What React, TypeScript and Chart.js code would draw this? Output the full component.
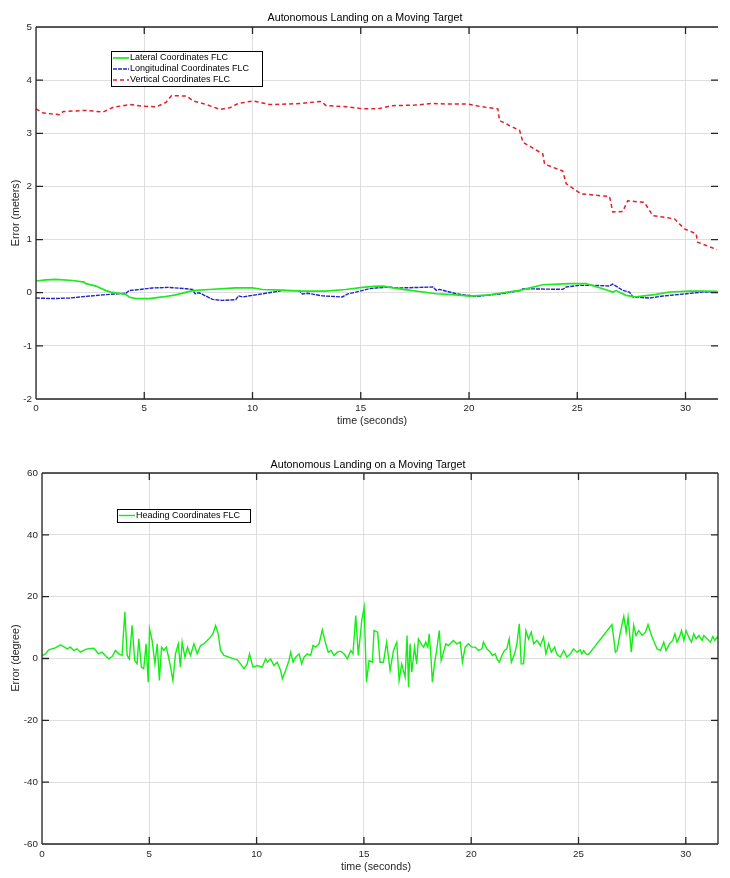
import React, { useEffect, useRef } from 'react';
import { Chart, registerables } from 'chart.js';
Chart.register(...registerables);

const FONT = '"Liberation Sans", Arial, Helvetica, sans-serif';
const AXIS_COLOR = '#262626';
const GRID_COLOR = '#dedede';

const chartTitle = 'Autonomous Landing on a Moving Target';
const xLabel = 'time (seconds)';
const yLabelTop = 'Error (meters)';
const yLabelBottom = 'Error (degree)';
const timeTicks = [0, 5, 10, 15, 20, 25, 30];
const metersTicks = [-2, -1, 0, 1, 2, 3, 4, 5];
const degreeTicks = [-60, -40, -20, 0, 20, 40, 60];

const lateralT = [0, 0.46, 0.92, 1.7, 2.23, 2.3, 2.77, 3.23, 3.46, 4.15, 4.3, 4.6, 5.23, 5.85, 6.46, 7.23, 8.0, 9.23, 10.0, 10.46, 11.38, 12.3, 13.38, 14.3, 15.08, 15.6, 16.03, 16.33, 16.95, 18.49, 19.41, 20.03, 20.95, 22.33, 23.41, 24.64, 25.41, 26.18, 26.64, 26.8, 27.25, 27.72, 28.64, 29.26, 30.18, 30.79, 31.48];
const lateralV = [0.22, 0.24, 0.25, 0.23, 0.2, 0.17, 0.125, 0.04, 0.01, -0.03, -0.08, -0.11, -0.11, -0.08, -0.04, 0.04, 0.06, 0.09, 0.09, 0.06, 0.05, 0.03, 0.03, 0.06, 0.1, 0.12, 0.125, 0.1, 0.063, -0.02, -0.04, -0.063, -0.04, 0.044, 0.15, 0.17, 0.17, 0.075, 0.013, 0.04, -0.05, -0.08, -0.03, 0.013, 0.03, 0.03, 0.025];

const longitudinalT = [0, 0.77, 1.54, 2.3, 3.08, 4.15, 4.3, 4.77, 5.38, 6.15, 6.92, 7.23, 7.35, 7.54, 8.15, 8.6, 9.23, 9.35, 9.54, 10.15, 10.77, 11.38, 12.15, 12.3, 12.54, 13.23, 14.15, 14.38, 14.77, 15.38, 15.7, 16.33, 16.64, 18.33, 18.49, 18.64, 19.41, 20.33, 21.41, 22.41, 22.49, 24.33, 24.49, 25.1, 25.87, 26.49, 26.64, 27.1, 27.41, 27.57, 28.33, 28.95, 30.03, 30.79, 31.48];
const longitudinalV = [-0.1, -0.11, -0.1, -0.07, -0.04, -0.01, 0.04, 0.06, 0.09, 0.1, 0.075, 0.06, -0.02, 0.0, -0.125, -0.145, -0.13, -0.06, -0.08, -0.04, 0.0, 0.04, 0.04, -0.025, -0.01, -0.06, -0.08, -0.025, 0.01, 0.075, 0.09, 0.107, 0.088, 0.107, 0.044, 0.063, -0.02, -0.07, -0.025, 0.044, 0.075, 0.063, 0.107, 0.138, 0.138, 0.125, 0.163, 0.044, 0.013, -0.08, -0.1, -0.063, -0.02, 0.013, 0.013];

const verticalT = [0, 0.34, 1.1, 1.26, 2.34, 3.1, 3.57, 4.34, 4.95, 5.57, 6.0, 6.26, 6.95, 7.26, 7.88, 8.49, 8.95, 9.34, 10.03, 10.8, 12.2, 13.18, 13.4, 14.34, 15.1, 15.8, 16.41, 17.5, 18.26, 19.18, 19.95, 20.57, 21.33, 21.41, 22.34, 22.49, 23.41, 23.49, 24.33, 24.49, 25.18, 26.49, 26.64, 27.1, 27.33, 28.1, 28.49, 29.49, 29.95, 30.49, 30.56, 31.46];
const verticalV = [3.46, 3.38, 3.35, 3.41, 3.43, 3.4, 3.49, 3.54, 3.51, 3.5, 3.58, 3.71, 3.7, 3.61, 3.54, 3.45, 3.48, 3.56, 3.61, 3.54, 3.56, 3.6, 3.52, 3.5, 3.46, 3.46, 3.52, 3.53, 3.56, 3.55, 3.55, 3.5, 3.46, 3.24, 3.05, 2.83, 2.61, 2.42, 2.29, 2.05, 1.86, 1.81, 1.52, 1.53, 1.73, 1.7, 1.45, 1.39, 1.2, 1.11, 0.95, 0.81];

const headingT = [
  0, 0.16, 0.31, 0.62, 0.86, 1.01, 1.17, 1.32, 1.48, 1.63,
  1.79, 1.94, 2.1, 2.41, 2.64, 2.8, 2.95, 3.11, 3.27, 3.42,
  3.58, 3.73, 3.86, 3.97, 4.07, 4.2, 4.32, 4.43, 4.51, 4.63,
  4.74, 4.85, 4.95, 5.01, 5.13, 5.26, 5.37, 5.47, 5.57, 5.68,
  5.79, 5.88, 5.99, 6.1, 6.22, 6.35, 6.45, 6.53, 6.66, 6.78,
  6.92, 7.08, 7.23, 7.39, 7.54, 7.7, 7.85, 7.96, 8.09, 8.21,
  8.32, 8.48, 8.71, 8.94, 9.1, 9.25, 9.41, 9.56, 9.67, 9.83,
  10.03, 10.26, 10.42, 10.5, 10.65, 10.81, 10.96, 11.12, 11.2, 11.35,
  11.51, 11.59, 11.7, 11.82, 11.98, 12.1, 12.21, 12.36, 12.52, 12.63,
  12.75, 12.91, 13.06, 13.22, 13.34, 13.47, 13.61, 13.76, 13.92, 14.07,
  14.23, 14.39, 14.49, 14.62, 14.74, 14.9, 15.01, 15.12, 15.24, 15.4,
  15.47,
  15.64, 15.75, 15.91, 16.06, 16.22, 16.38, 16.53, 16.64, 16.76, 16.92,
  17.01, 17.08, 17.15, 17.23, 17.36, 17.46, 17.54, 17.67, 17.78, 17.88,
  17.98, 18.04, 18.12, 18.19, 18.29, 18.4, 18.51, 18.6, 18.71, 18.82,
  18.94, 19.17, 19.33, 19.49, 19.59, 19.72, 19.87, 20.03, 20.19, 20.34,
  20.5, 20.57, 20.73, 20.89, 20.99, 21.12, 21.2, 21.31, 21.43, 21.55,
  21.66, 21.77, 21.87, 22.02, 22.13, 22.24, 22.33, 22.44, 22.55, 22.67,
  22.8, 22.91, 23.06, 23.22, 23.37, 23.48, 23.61, 23.73, 23.89, 23.98,
  24.15, 24.31, 24.46, 24.62, 24.77, 24.93, 25.08, 25.16, 25.24, 25.35,
  25.47, 26.56, 26.72, 26.8, 26.92, 27.11, 27.22, 27.31, 27.46, 27.57,
  27.68, 27.81, 27.96, 28.12, 28.24, 28.43, 28.66, 28.82, 28.97, 29.08,
  29.24, 29.39, 29.49, 29.59, 29.7, 29.8, 29.91, 30.01, 30.14, 30.26,
  30.37, 30.48, 30.61, 30.76, 30.84, 30.99, 31.15, 31.26, 31.35, 31.46,
  31.54,
];
const headingV = [
  0.97, 1.51, 2.8, 3.45, 4.42, 3.88, 3.13, 3.67, 2.59, 3.13,
  2.05, 2.59, 3.13, 3.34, 1.51, 2.05, 0.97, -0.11, 0.65, 2.59,
  1.51, 0.97, 15.0, 0.97, -0.11, 10.7, -0.65, -1.73, 6.36, -2.8,
  -3.34, 4.75, -7.66, 9.6, 5.83, -1.73, 4.75, -7.12, 3.67, 2.59,
  3.67, 0.97, -2.8, -7.12, 1.51, 4.75, -2.8, 5.29, 0.43, 3.67,
  0.97, 4.75, 1.51, 4.21, 4.75, 5.83, 6.9, 7.98, 10.68, 7.98,
  2.59, 0.97, 0.43, -0.11, -0.43, -1.73, -3.34, -1.73, 1.51, -2.8,
  -2.27, -2.8, -0.11, -1.19, -0.11, -2.27, -1.19, -3.88, -6.58, -3.88,
  -0.65, 2.05, -1.19, 0.43, 1.51, -1.73, 0.43, 1.51, 0.97, 4.21,
  3.67, 4.75, 9.28, 4.75, 2.05, 2.59, 0.97, 2.05, 2.37, 1.51,
  -0.11, 2.59, 1.51, 13.9, 0.97, 12.3, 16.6, -7.66, -0.65, -1.19,
  9.06,
  8.52, -1.19, -1.19, 5.29, -3.88, 2.59, 5.29, -7.12, -1.73, -6.04,
  7.44, -9.28, 4.75, -4.42, 3.67, -1.73, 6.36, 4.75, 3.67, 5.29,
  3.67, 7.98, 0.97, -7.66, -1.73, 3.13, 9.06, -0.65, 2.05, 4.75,
  4.21, 5.83, 4.75, 5.29, -1.19, 3.67, 4.75, 3.67, 3.67, 2.59,
  3.13, 5.29, 3.13, 2.05, 0.97, 1.51, -0.11, -1.19, 0.97, 2.59,
  3.13, 6.36, -1.19, 1.51, 4.75, 11.2, -1.73, -1.73, 9.06, 6.36,
  8.52, 4.75, 5.83, 4.21, 6.9, 1.51, 4.75, 2.05, 3.67, 1.51,
  0.43, 2.59, 0.43, 1.51, 3.13, 2.05, 2.8, 1.51, 2.59, 1.51,
  1.29, 11.0, 2.05, 2.59, 7.44, 13.6, 8.52, 13.4, 2.05, 10.7,
  7.44, 9.06, 7.44, 8.52, 11.0, 6.9, 3.13, 2.59, 5.29, 2.59,
  4.75, 5.83, 7.98, 5.29, 6.9, 9.06, 5.83, 9.06, 6.9, 5.29,
  7.98, 6.36, 7.44, 5.83, 7.44, 6.36, 5.29, 7.12, 5.83, 6.9,
  6.36,
];

const zip = (t: number[], v: number[]) => t.map((x, i) => ({ x, y: v[i] }));

const framePlugin = {
  id: 'matlabFrame',
  afterDraw(chart: any, _args: any, opts: any) {
    const { ctx, chartArea: a } = chart;
    const xs = chart.scales.x;
    const ys = chart.scales.y;
    ctx.save();
    ctx.strokeStyle = AXIS_COLOR;
    ctx.lineWidth = 1.3;
    ctx.beginPath();
    ctx.moveTo(a.left, a.top); ctx.lineTo(a.right, a.top);
    ctx.moveTo(a.left, a.bottom); ctx.lineTo(a.right, a.bottom);
    ctx.moveTo(a.left, a.top); ctx.lineTo(a.left, a.bottom);
    if (opts.rightLine) { ctx.moveTo(a.right, a.top); ctx.lineTo(a.right, a.bottom); }
    const tl = 7;
    xs.ticks.forEach((t: any) => {
      const p = xs.getPixelForValue(t.value);
      ctx.moveTo(p, a.bottom); ctx.lineTo(p, a.bottom - tl);
      ctx.moveTo(p, a.top); ctx.lineTo(p, a.top + tl);
    });
    ys.ticks.forEach((t: any) => {
      const p = ys.getPixelForValue(t.value);
      ctx.moveTo(a.left, p); ctx.lineTo(a.left + tl, p);
      ctx.moveTo(a.right, p); ctx.lineTo(a.right - tl, p);
    });
    ctx.stroke();

    ctx.fillStyle = '#000';
    ctx.textBaseline = 'middle';
    ctx.textAlign = 'center';
    ctx.font = `10.7px ${FONT}`;
    ctx.fillText(opts.title, opts.titleX, opts.titleY);
    ctx.fillStyle = AXIS_COLOR;
    ctx.fillText(opts.xLabel, opts.xLabelX, opts.xLabelY);
    ctx.save();
    ctx.translate(opts.yLabelX, opts.yLabelY);
    ctx.rotate(-Math.PI / 2);
    ctx.fillText(opts.yLabel, 0, 0);
    ctx.restore();

    const L = opts.legend;
    ctx.fillStyle = '#fff';
    ctx.fillRect(L.x, L.y, L.w, L.h);
    ctx.strokeStyle = '#000';
    ctx.lineWidth = 1;
    ctx.setLineDash([]);
    ctx.strokeRect(L.x + 0.5, L.y + 0.5, L.w, L.h);
    ctx.font = `9px ${FONT}`;
    ctx.textAlign = 'left';
    chart.data.datasets.forEach((ds: any, i: number) => {
      const cy = L.y + L.firstRow + i * L.rowH;
      ctx.strokeStyle = ds.borderColor;
      ctx.lineWidth = ds.borderWidth;
      ctx.setLineDash(ds.borderDash || []);
      ctx.beginPath();
      ctx.moveTo(L.x + 2, cy);
      ctx.lineTo(L.x + 18, cy);
      ctx.stroke();
      ctx.setLineDash([]);
      ctx.fillStyle = '#000';
      ctx.fillText(ds.label, L.x + 19, cy);
    });
    ctx.restore();
  },
};

function makeOptions(p: any) {
  return {
    responsive: false,
    animation: false,
    devicePixelRatio: 1,
    layout: { padding: { left: 0, right: 12, top: p.padTop, bottom: 0 } },
    elements: { point: { radius: 0 }, line: { tension: 0 } },
    plugins: {
      legend: { display: false },
      title: { display: false },
      tooltip: { enabled: false },
      matlabFrame: p.frame,
    },
    scales: {
      x: {
        type: 'linear',
        min: 0,
        max: 31.5,
        afterBuildTicks: (s: any) => { s.ticks = timeTicks.map((v) => ({ value: v })); },
        afterFit: (s: any) => { s.height = p.xHeight; },
        grid: { color: GRID_COLOR, lineWidth: 1, drawTicks: false },
        border: { display: false },
        ticks: { font: { family: FONT, size: 9.8 }, color: AXIS_COLOR, padding: p.xPad, maxRotation: 0 },
      },
      y: {
        type: 'linear',
        min: p.yMin,
        max: p.yMax,
        afterBuildTicks: (s: any) => { s.ticks = p.yTicks.map((v: number) => ({ value: v })); },
        afterFit: (s: any) => { s.width = p.yWidth; },
        grid: { color: GRID_COLOR, lineWidth: 1, drawTicks: false },
        border: { display: false },
        ticks: { font: { family: FONT, size: 9.8 }, color: AXIS_COLOR, padding: 4 },
      },
    },
  };
}

export default function App() {
  const topRef = useRef<HTMLCanvasElement>(null);
  const botRef = useRef<HTMLCanvasElement>(null);

  useEffect(() => {
    const top = new Chart(topRef.current as HTMLCanvasElement, {
      type: 'line',
      data: {
        datasets: [
          { label: 'Lateral Coordinates FLC', data: zip(lateralT, lateralV), borderColor: '#1ee81e', borderWidth: 1.7, fill: false },
          { label: 'Longitudinal Coordinates FLC', data: zip(longitudinalT, longitudinalV), borderColor: '#2424c8', borderWidth: 1.4, borderDash: [4, 1], fill: false },
          { label: 'Vertical Coordinates FLC', data: zip(verticalT, verticalV), borderColor: '#e41e28', borderWidth: 1.5, borderDash: [4, 3], fill: false },
        ],
      },
      options: makeOptions({
        padTop: 27, xHeight: 31, yWidth: 36, xPad: 3,
        yMin: -2, yMax: 5, yTicks: metersTicks,
        frame: {
          rightLine: false,
          title: chartTitle, titleX: 365, titleY: 18,
          xLabel, xLabelX: 372, xLabelY: 421,
          yLabel: yLabelTop, yLabelX: 16, yLabelY: 213,
          legend: { x: 111, y: 51, w: 151, h: 35, firstRow: 7, rowH: 11 },
        },
      }) as any,
      plugins: [framePlugin],
    });

    const bot = new Chart(botRef.current as HTMLCanvasElement, {
      type: 'line',
      data: {
        datasets: [
          { label: 'Heading Coordinates FLC', data: zip(headingT, headingV), borderColor: '#14ee14', borderWidth: 1.4, fill: false },
        ],
      },
      options: makeOptions({
        padTop: 33, xHeight: 34, yWidth: 42, xPad: 4,
        yMin: -60, yMax: 60, yTicks: degreeTicks,
        frame: {
          rightLine: true,
          title: chartTitle, titleX: 368, titleY: 25,
          xLabel, xLabelX: 376, xLabelY: 427,
          yLabel: yLabelBottom, yLabelX: 16, yLabelY: 218,
          legend: { x: 117, y: 69, w: 133, h: 13, firstRow: 6.5, rowH: 11 },
        },
      }) as any,
      plugins: [framePlugin],
    });

    return () => {
      top.destroy();
      bot.destroy();
    };
  }, []);

  return (
    <div style={{ position: 'absolute', left: 0, top: 0, width: 730, height: 878, background: '#fff' }}>
      <canvas ref={topRef} width={730} height={430} style={{ position: 'absolute', left: 0, top: 0, width: 730, height: 430 }} />
      <canvas ref={botRef} width={730} height={438} style={{ position: 'absolute', left: 0, top: 440, width: 730, height: 438 }} />
    </div>
  );
}
